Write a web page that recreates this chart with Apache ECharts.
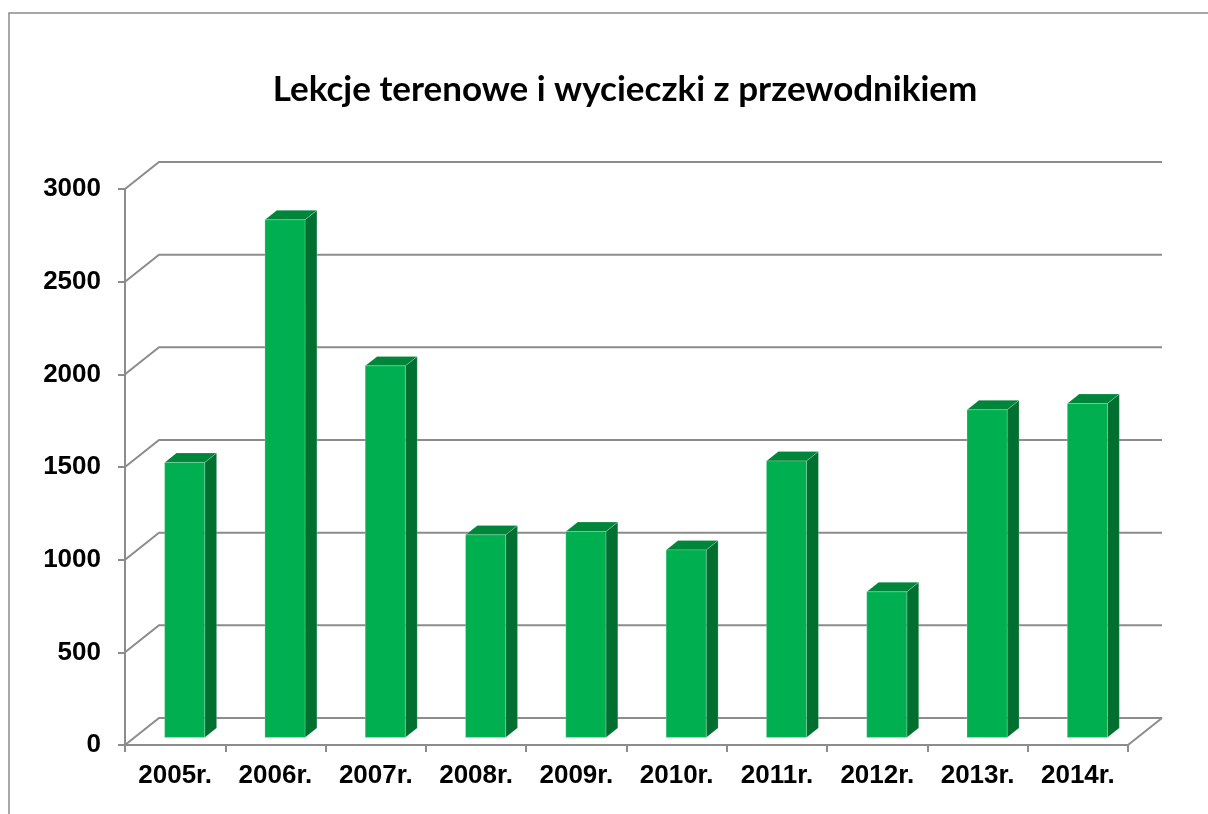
<!DOCTYPE html>
<html>
<head>
<meta charset="UTF-8">
<title>Lekcje terenowe</title>
<style>html,body{margin:0;padding:0;background:#fff;}</style>
</head>
<body>
<div id="box" style="width:1208px;height:814px;"></div>
<script src="https://cdn.jsdelivr.net/npm/echarts@6/dist/echarts.min.js"></script>
<script>
const years = ['2005r.', '2006r.', '2007r.', '2008r.', '2009r.', '2010r.', '2011r.', '2012r.', '2013r.', '2014r.'];
const visits = [1484, 2793, 2005, 1093, 1111, 1012, 1492, 786, 1768, 1802];
const yTicks = [0, 500, 1000, 1500, 2000, 2500, 3000];

// depth of the pseudo-3D box
const DX = 34, DY = 27;
const gridCol = '#8c8c8c';

const chart = echarts.init(document.getElementById('box'));

const option = {
    animation: false,
    title: {
        text: 'Lekcje terenowe i wycieczki z przewodnikiem',
        left: 620,
        top: 67,
        textAlign: 'center',
        textStyle: { fontFamily: 'Lato', fontWeight: 'bold', fontSize: 35, color: '#000' }
    },
    graphic: [{
        type: 'rect',
        shape: { x: 9, y: 13, width: 1400, height: 1000 },
        style: { fill: 'none', stroke: '#8a8a8a', lineWidth: 1.5 },
        silent: true
    }],
    grid: { left: 125, right: 80, top: 189, bottom: 69 },
    xAxis: {
        type: 'category',
        data: years,
        axisLine: { lineStyle: { color: gridCol, width: 2 } },
        axisTick: { show: true, length: 7, lineStyle: { color: gridCol, width: 2 } },
        axisLabel: { margin: 18, fontFamily: 'Arial', fontWeight: 'bold', fontSize: 26, color: '#000' }
    },
    yAxis: {
        type: 'value',
        min: 0, max: 3000, interval: 500,
        axisLine: { show: true, lineStyle: { color: gridCol, width: 2 } },
        axisTick: { show: true, length: 7, lineStyle: { color: gridCol, width: 2 } },
        splitLine: { show: false },
        axisLabel: {
            margin: 24, fontFamily: 'Arial', fontWeight: 'bold', fontSize: 26, color: '#000',
            formatter: v => String(v)
        }
    },
    series: [{
        // back wall gridlines + floor
        type: 'custom',
        data: yTicks.map(v => [0, v]),
        silent: true,
        z: 1,
        renderItem: function (params, api) {
            const cs = params.coordSys;
            const v = api.value(1);
            const y = api.coord([0, v])[1];
            const x0 = cs.x, x1 = cs.x + cs.width;
            const children = [{
                type: 'polyline',
                shape: { points: [[x0, y], [x0 + DX, y - DY], [x1 + DX, y - DY]] },
                style: { stroke: gridCol, lineWidth: 2, fill: 'none' }
            }];
            if (v === 0) {
                children.push({
                    type: 'line',
                    shape: { x1: x1, y1: y, x2: x1 + DX, y2: y - DY },
                    style: { stroke: gridCol, lineWidth: 2 }
                });
            }
            return { type: 'group', children: children };
        }
    }, {
        type: 'custom',
        data: visits.map((v, i) => [i, v]),
        z: 3,
        renderItem: function (params, api) {
            const top = api.coord([api.value(0), api.value(1)]);
            const base = api.coord([api.value(0), 0]);
            const bw = api.size([1, 0])[0];
            const w = bw * 0.4;
            const ox = DX * 0.28, oy = DY * 0.28;
            const dx = DX * 0.35, dy = DY * 0.35;
            const l = top[0] + ox - w / 2, r = l + w;
            const t = top[1] - oy, b = base[1] - oy;
            const edge = 'rgba(255,255,255,0.25)';
            return {
                type: 'group',
                children: [{
                    type: 'polygon',
                    shape: { points: [[r, t], [r + dx, t - dy], [r + dx, b - dy], [r, b]] },
                    style: { fill: '#006f2f', stroke: edge, lineWidth: 0.8 }
                }, {
                    type: 'polygon',
                    shape: { points: [[l, t], [l + dx, t - dy], [r + dx, t - dy], [r, t]] },
                    style: { fill: '#00863b', stroke: edge, lineWidth: 0.8 }
                }, {
                    type: 'rect',
                    shape: { x: l, y: t, width: w, height: b - t },
                    style: { fill: '#00b050', stroke: edge, lineWidth: 0.8 }
                }]
            };
        }
    }]
};

chart.setOption(option);
</script>
</body>
</html>
